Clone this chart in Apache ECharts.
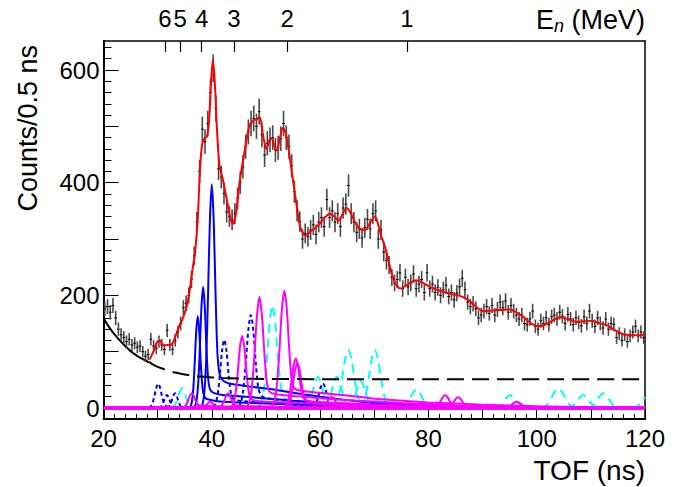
<!DOCTYPE html>
<html><head><meta charset="utf-8">
<script src="https://cdn.jsdelivr.net/npm/echarts@6/dist/echarts.min.js"></script>
<style>html,body{margin:0;padding:0;background:#fff}#c{width:685px;height:487px}</style>
</head><body><div id="c"></div>
<script>
// ---- data ----
const binLo = 20, binW = 0.5;
const counts = [176,180,170,182,160,140,130,125,118,122,112,115,108,110,100,92,95,122,110,106,
118,112,104,138,112,104,120,135,150,178,186,200,228,270,330,420,495,473,505,560,
603,532,425,410,381,348,340,334,345,372,400,428,464,490,505,514,500,526,485,449,
470,476,480,458,462,478,505,480,464,430,384,350,331,300,310,304,316,325,308,330,
338,322,370,338,350,330,345,322,355,362,395,345,330,312,318,302,320,335,318,345,
350,300,316,277,262,254,232,222,228,240,212,232,215,222,238,212,220,228,205,240,
212,220,205,214,200,210,218,198,205,192,204,215,230,210,188,180,185,176,160,165,
172,180,168,182,165,175,188,178,190,170,182,172,165,158,165,150,148,158,172,145,
140,155,150,160,148,162,165,158,170,163,150,166,158,148,160,152,146,162,150,172,
155,145,160,150,142,158,140,150,148,125,132,120,130,118,128,135,145,128,135,125];

const fitCurve = [[28.5,86],[29.3,102],[29.9,117],[30.4,120],[31.0,111],[31.8,112],[32.6,113],[33.2,125],[33.8,141],
[34.6,158],[35.4,182],[36.0,215],[36.5,250],[36.9,275],[37.4,335],[37.8,420],[38.2,468],[38.6,478],[39.1,482],
[39.5,510],[39.8,570],[40.2,618],[40.6,570],[40.9,505],[41.4,432],[42.1,403],[42.9,363],[43.5,335],[43.9,327],
[44.4,342],[45.2,405],[46.1,458],[46.9,499],[47.7,511],[48.3,512],[48.8,517],[49.5,482],[50.1,460],[50.6,474],
[51.1,479],[51.6,463],[52.0,457],[52.6,480],[53.1,497],[53.5,492],[53.8,482],[54.4,445],[54.9,411],[55.7,357],
[56.3,322],[57.0,308],[57.5,307],[58.4,315],[59.4,322],[60.6,335],[61.8,345],[62.6,340],[63.4,333],[64.2,345],
[64.9,355],[65.6,347],[66.4,331],[67.3,318],[68.3,316],[69.3,330],[70.1,340],[70.6,330],[71.3,305],[72.0,286],
[73.2,239],[74.0,220],[74.8,212],[76.0,218],[77.8,227],[79.0,222],[80.3,215],[82.8,206],[85.0,201],[86.4,197],
[87.7,189],[89.0,178],[90.1,172],[92.0,173],[95.1,175],[96.5,168],[97.5,162],[99.0,150],[100.6,145],[102.0,150],
[104.3,161],[106.0,157],[107.4,153],[109.8,155],[111.5,151],[112.9,147],[114.5,138],[116.0,131],[118.0,129],[120,130]];

const bgSolid = [[20,160],[21,144],[22,131],[23,120],[24,110],[25,101],[26,94],[27,88],[28,83],[28.5,81]];
const bgDashed = [[28.5,81],[29,78],[30,73],[31,69.5],[32,66],[33,63.5],[34,61.5],[35,59.5],[36,58],[37,56.8],
[38,55.8],[40,54.2],[42,53.2],[45,52.3],[50,51.6],[60,51.2],[80,51],[120,51]];

const blueSolid1 = [[35.5,0],[36.03,2],[36.3,10],[36.58,34],[36.85,82],[37.13,137],[37.4,163],[37.68,137],[37.95,82],[38.23,42],[38.5,24],[38.9,17],[39.5,15],[41,12],[45,10],[50,8],[60,5],[75,2],[100,0.5],[120,0.2]];
const blueSolid2 = [[36.5,0],[36.9,3],[37.2,14],[37.5,45],[37.8,108],[38.1,181],[38.4,215],[38.7,181],[39.0,108],[39.3,55],[39.6,35],[40.0,29],[40.6,26],[42,23],[45,21],[50,17],[55,13],[60,10],[70,5],[85,2],[120,0.3]];
const blueSolid3 = [[37.8,0],[38.25,5],[38.6,25],[38.95,83],[39.3,199],[39.65,333],[40.0,397],[40.35,333],[40.7,200],[41.05,95],[41.4,62],[41.8,52],[42.5,46],[44,42],[47,38],[51.4,33],[55,27],[60,20],[65,14],[71,8],[80,4],[90,2],[100,1],[120,0.3]];

const blueDot1 = [[28.4,0],[28.7,3],[29.05,9],[29.4,21],[29.75,36],[30.1,43],[30.45,36],[30.8,21],[31.15,9],[31.5,4],[32.5,2],[40,1],[55,0]];
const blueDot2 = [[30.2,0.3],[30.5,1.5],[30.8,5],[31.1,11.5],[31.4,19],[31.7,23],[32.0,19],[32.3,11.5],[32.6,5],[32.9,1.5],[33.2,0.3]];
const blueDot3 = [[31.7,0.3],[32.0,1.6],[32.3,5.5],[32.6,13],[32.9,22],[33.2,26],[33.5,22],[33.8,13],[34.1,5.5],[34.4,1.6],[34.7,0.3]];
const blueDot4 = [[40.3,1.6],[40.7,7.6],[41.1,25],[41.5,60],[41.9,102],[42.3,121],[42.7,102],[43.1,60],[43.5,28],[43.9,17],[44.5,14],[46,12],[50,9],[55,6],[60,4],[70,2],[85,0.5]];
const blueDot5 = [[44.95,2],[45.4,10],[45.85,35],[46.3,83],[46.75,139],[47.2,165],[47.65,139],[48.1,83],[48.55,38],[49.0,24],[49.6,19],[51,16],[55,12],[60,8],[70,4],[85,1]];
const blueDot6 = [[58.5,0.6],[58.9,3],[59.3,9],[59.7,22],[60.1,37],[60.5,44],[60.9,37],[61.3,22],[61.7,9],[62.1,3],[62.5,0.6]];

const magenta1 = [[34.55,0.3],[34.9,1.6],[35.25,5.5],[35.6,13],[35.95,22],[36.3,26],[36.65,22],[37.0,13],[37.35,7],[37.7,5],[38.5,4],[42,3],[50,2],[60,1],[80,0.3]];
const magenta0 = [[38.3,0.7],[38.65,2.5],[39.0,5.5],[39.35,9],[39.7,11],[40.05,9],[40.4,5.5],[40.75,2.5],[41.1,2],[45,1.5],[55,0.5]];
const magenta2 = [[41.25,0.3],[41.6,1.6],[41.95,6],[42.3,13],[42.65,22],[43.0,26],[43.35,22],[43.7,13],[44.05,6],[44.5,4.5],[46,3.5],[55,2],[70,0.8]];
const magenta3 = [[43.6,1.7],[44.0,8],[44.4,27],[44.8,64],[45.2,108],[45.6,128],[46.0,108],[46.4,64],[46.8,30],[47.2,17],[48,13],[50,11],[55,9],[60,7],[65,5],[75,3],[90,1],[120,0.2]];
const magenta4 = [[46.55,2.6],[47.0,12.4],[47.45,41],[47.9,99],[48.35,165],[48.8,197],[49.25,165],[49.7,99],[50.15,46],[50.6,30],[51.2,26],[53,23],[57,20],[62,16],[67,13],[75,9],[85,5],[95,3],[110,1],[120,0.5]];
const magenta5 = [[51.15,2.7],[51.6,13],[52.05,44],[52.5,104],[52.95,175],[53.4,208],[53.85,175],[54.3,104],[54.75,50],[55.2,36],[55.8,32],[58,29],[62,25],[67,20],[72,15],[80,10],[90,6],[100,3],[110,1.5],[120,0.8]];
const magenta6 = [[53.4,1.1],[53.82,5.5],[54.24,19],[54.66,44],[55.08,74],[55.5,88],[55.92,74],[56.34,44],[56.76,22],[57.2,15],[58,12],[60,10],[65,8],[70,6],[80,3],[95,1]];
const magenta6b = [[53.7,1],[54.12,5],[54.54,17],[54.96,40],[55.38,67],[55.8,80],[56.22,67],[56.64,40],[57.06,20],[57.5,13],[58.5,11],[62,9],[70,5],[85,2]];
const magenta7 = [[60.1,0.3],[60.5,1.3],[60.9,4.2],[61.3,10],[61.7,17],[62.1,20],[62.5,17],[62.9,10],[63.3,4.2],[63.7,1.3],[64.1,0.3]];
const magenta8 = [[80.85,0.3],[81.3,1.4],[81.75,4.8],[82.2,11.5],[82.65,19],[83.1,23],[83.55,19],[84.0,11.5],[84.45,4.8],[84.9,1.4],[85.35,0.3]];
const magenta9 = [[83.25,0.25],[83.7,1.2],[84.15,4],[84.6,9.5],[85.05,16],[85.5,19],[85.95,16],[86.4,9.5],[86.85,4],[87.3,1.2],[87.75,0.25]];
const magenta10 = [[93.8,0.15],[94.3,0.7],[94.8,2.3],[95.3,5.5],[95.8,9.2],[96.3,11],[96.8,9.2],[97.3,5.5],[97.8,2.3],[98.3,0.7],[98.8,0.15]];
const magentaBase = [[20,0],[120,0]];

const cyan1 = [[48.7,2.4],[49.2,11.5],[49.7,38],[50.2,91],[50.7,153],[51.2,182],[51.7,153],[52.2,91],[52.7,42],[53.3,20],[54,14],[56,10],[60,7],[70,3],[85,1]];
const cyan2 = [[62.33,1.3],[62.9,6.5],[63.48,22],[64.05,52],[64.63,87],[65.2,103],[65.78,87],[66.35,52],[66.93,22],[67.5,6.5],[68.08,1.3]];
const cyan3 = [[67.23,1.3],[67.8,6.5],[68.38,22],[68.95,52],[69.53,87],[70.1,103],[70.68,87],[71.25,52],[71.83,22],[72.4,6.5],[72.98,1.3]];
const cyan4 = [[74.93,0.4],[75.5,2],[76.08,7],[76.65,16.5],[77.23,28],[77.8,33],[78.38,28],[78.95,16.5],[79.53,7],[80.1,2],[80.68,0.4]];
const cyan5 = [[57.1,0.7],[57.6,3.5],[58.1,11.5],[58.6,27.5],[59.1,46],[59.6,55],[60.1,46],[60.6,27.5],[61.1,11.5],[61.6,3.5],[62.1,0.7]];
const cyan6 = [[60.6,0.7],[61.1,3.5],[61.6,12],[62.1,28],[62.6,47],[63.1,56],[63.6,47],[64.1,28],[64.6,12],[65.1,3.5],[65.6,0.7]];
const cyan7 = [[65.0,0.6],[65.5,3],[66.0,10],[66.5,24],[67.0,40],[67.5,48],[68.0,40],[68.5,24],[69.0,10],[69.5,3],[70.0,0.6]];
const cyan8 = [[32.5,0.5],[32.9,2.2],[33.3,7.4],[33.7,17.5],[34.1,29],[34.5,35],[34.9,29],[35.3,17.5],[35.7,7.4],[36.1,2.2],[36.5,0.5]];
const cyan9 = [[92.1,0.3],[92.7,1.4],[93.3,4.8],[93.9,11.5],[94.5,19],[95.1,23],[95.7,19],[96.3,11.5],[96.9,4.8],[97.5,1.4],[98.1,0.3]];
const cyan10 = [[100.75,0.5],[101.4,2.2],[102.05,7.4],[102.7,17.5],[103.35,29],[104,35],[104.65,29],[105.3,17.5],[105.95,7.4],[106.6,2.2],[107.25,0.5]];
const cyan11 = [[105.6,0.3],[106.2,1.4],[106.8,4.8],[107.4,11.5],[108,19],[108.6,23],[109.2,19],[109.8,11.5],[110.4,4.8],[111,1.4],[111.6,0.3]];
const cyan12 = [[109.3,0.3],[109.9,1.6],[110.5,5.5],[111.1,13],[111.7,22],[112.3,26],[112.9,22],[113.5,13],[114.1,5.5],[114.7,1.6],[115.3,0.3]];
const cyan13 = [[117.6,0.3],[118.2,1.5],[118.8,5],[119.4,11],[120,20]];

const xMajorTicks = [20,30,40,50,60,70,80,90,100,110,120];
const xLabels = [20,40,60,80,100,120];
const yMajorTicks = [0,100,200,300,400,500,600];
const yLabels = [0,200,400,600];
const enTickPos = [31.36,34.18,38.13,44.1,53.9,76.05];
const enTickLabels = ['6','5','4','3','2','1'];

// ---- chart ----
const FONT = '"Liberation Sans", Arial, Helvetica, sans-serif';
const xMinor = []; for (let v = 20; v <= 120; v += 2) xMinor.push(v);
const yMinor = []; for (let v = 0; v <= 640; v += 20) yMinor.push(v);

function line(data, color, type, z, width) {
  return { type: 'line', data: data, showSymbol: false, symbol: 'none', smooth: 0.3,
    xAxisIndex: 0, yAxisIndex: 0, z: z, silent: true,
    lineStyle: { color: color, width: width || 2, type: type } };
}
const BLUE = '#0000ff', MAG = '#ff00ff', CYAN = '#00ffff';
const series = [];
[cyan1,cyan2,cyan3,cyan4,cyan5,cyan6,cyan7,cyan8,cyan9,cyan10,cyan11,cyan12,cyan13].forEach(d => series.push(line(d, CYAN, [9,6], 2)));
[blueDot1,blueDot2,blueDot3,blueDot4,blueDot5,blueDot6].forEach(d => series.push(line(d, BLUE, [4,3], 3)));
[blueSolid1,blueSolid2,blueSolid3].forEach(d => series.push(line(d, BLUE, 'solid', 3)));
[magenta0,magenta1,magenta2,magenta3,magenta4,magenta5,magenta6,magenta6b,magenta7,magenta8,magenta9,magenta10].forEach(d => series.push(line(d, MAG, 'solid', 4)));
series.push(line(magentaBase, MAG, 'solid', 4, 4));
series.push(line(bgSolid, '#000', 'solid', 5));
series.push(line(bgDashed, '#000', [17,8], 5));
series.push({
  type: 'custom', xAxisIndex: 0, yAxisIndex: 0, z: 6, silent: true,
  data: counts.map((v, i) => [binLo + binW * i + binW / 2, v]),
  renderItem: function (params, api) {
    const t = api.value(0), v = api.value(1), e = Math.sqrt(v);
    const a = api.coord([t, v + e]), b = api.coord([t, v - e]);
    const l = api.coord([t - binW / 2, v]), r = api.coord([t + binW / 2, v]);
    return { type: 'group', children: [
      { type: 'line', shape: { x1: a[0], y1: a[1], x2: b[0], y2: b[1] }, style: { stroke: '#4a4a4a', lineWidth: 1.6 } },
      { type: 'line', shape: { x1: l[0], y1: l[1], x2: r[0], y2: r[1] }, style: { stroke: '#000', lineWidth: 1 } }
    ]};
  }
});
series.push(line(fitCurve, '#ff0000', 'solid', 7));

const lblStyle = { color: '#000', fontSize: 24, fontFamily: FONT };
const chart = echarts.init(document.getElementById('c'), null, { renderer: 'svg' });
chart.setOption({
  animation: false,
  grid: { left: 103.5, right: 40, top: 41, bottom: 68, containLabel: false },
  xAxis: [
    { type: 'value', position: 'bottom', min: 20, max: 120,
      axisLine: { show: true, onZero: false, lineStyle: { color: '#000', width: 2 } },
      axisTick: { show: true, inside: true, length: 10, customValues: xMajorTicks, lineStyle: { color: '#000', width: 1 } },
      axisLabel: Object.assign({ show: true, margin: 7, customValues: xLabels }, lblStyle),
      splitLine: { show: false } },
    { type: 'value', position: 'bottom', min: 20, max: 120,
      axisLine: { show: false, onZero: false }, axisLabel: { show: false }, splitLine: { show: false },
      axisTick: { show: true, inside: true, length: 5, customValues: xMinor, lineStyle: { color: '#000', width: 1 } } },
    { type: 'value', position: 'top', min: 20, max: 120,
      axisLine: { show: true, onZero: false, lineStyle: { color: '#000', width: 1.5 } },
      axisTick: { show: true, inside: true, length: 11, customValues: enTickPos, lineStyle: { color: '#000', width: 1.2 } },
      axisLabel: Object.assign({ show: true, margin: 11, customValues: enTickPos,
        formatter: v => { const i = enTickPos.indexOf(v); return i >= 0 ? enTickLabels[i] : ''; } }, lblStyle),
      splitLine: { show: false } }
  ],
  yAxis: [
    { type: 'value', position: 'left', min: -19.5, max: 651.5,
      axisLine: { show: true, onZero: false, lineStyle: { color: '#000', width: 2 } },
      axisTick: { show: true, inside: true, length: 15, customValues: yMajorTicks, lineStyle: { color: '#000', width: 1 } },
      axisLabel: Object.assign({ show: true, margin: 4, customValues: yLabels }, lblStyle),
      splitLine: { show: false } },
    { type: 'value', position: 'left', min: -19.5, max: 651.5,
      axisLine: { show: false, onZero: false }, axisLabel: { show: false }, splitLine: { show: false },
      axisTick: { show: true, inside: true, length: 8, customValues: yMinor, lineStyle: { color: '#000', width: 1 } } },
    { type: 'value', position: 'right', min: -19.5, max: 651.5,
      axisLine: { show: true, onZero: false, lineStyle: { color: '#000', width: 1.5 } },
      axisTick: { show: false }, axisLabel: { show: false }, splitLine: { show: false } }
  ],
  graphic: [
    { type: 'text', x: 645, y: 470, style: { text: 'TOF (ns)', fill: '#000', font: '28px ' + FONT, textAlign: 'right', textVerticalAlign: 'middle' } },
    { type: 'text', x: 28, y: 45, rotation: Math.PI / 2, style: { text: 'Counts/0.5 ns', fill: '#000', font: '27px ' + FONT, textAlign: 'right', textVerticalAlign: 'middle' } },
    { type: 'text', x: 645, y: 20, style: { text: 'E{s|n} (MeV)', fill: '#000', font: '27px ' + FONT, textAlign: 'right', textVerticalAlign: 'middle',
        rich: { s: { fontSize: 18, fontStyle: 'italic', fontFamily: FONT, padding: [12, 0, 0, 0] } } } }
  ],
  series: series
});
</script>
</body></html>
